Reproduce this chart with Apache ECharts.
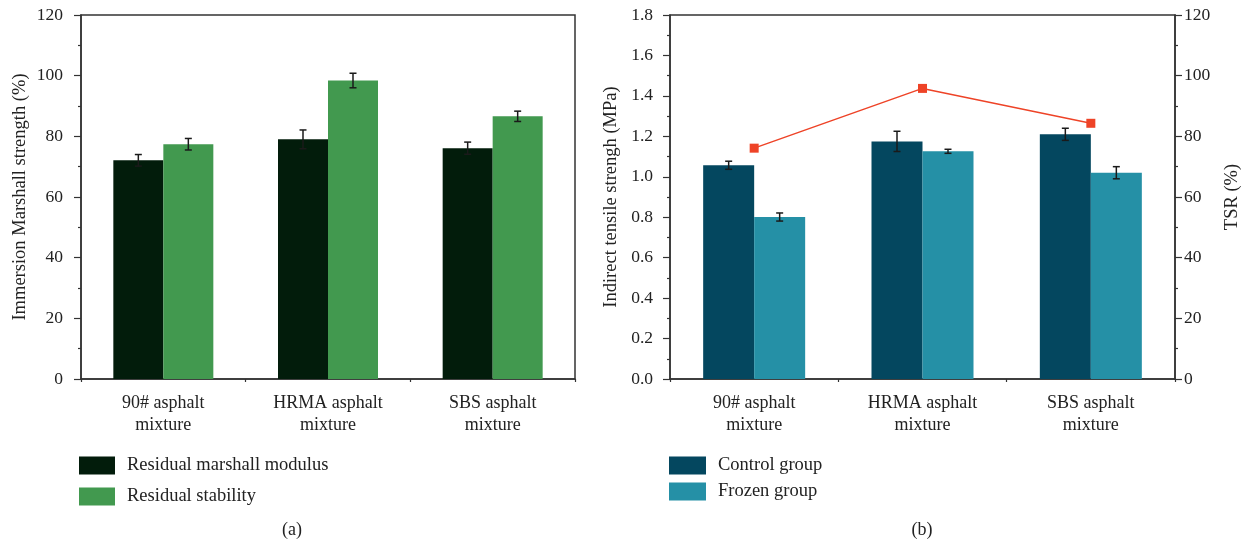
<!DOCTYPE html>
<html>
<head>
<meta charset="utf-8">
<script src="https://cdn.jsdelivr.net/npm/echarts@6/dist/echarts.min.js"></script>
<style>html,body{margin:0;padding:0;background:#fff}#c{width:1246px;height:544px}</style>
</head>
<body>
<div id="c"></div>
<script>
// ---- data ----
const categories = ['90# asphalt\nmixture', 'HRMA asphalt\nmixture', 'SBS asphalt\nmixture'];
const marshallModulus = [72.1, 79.0, 76.1];
const marshallModulusErr = [1.9, 3.1, 2.0];
const residualStability = [77.4, 98.4, 86.6];
const residualStabilityErr = [1.9, 2.4, 1.7];
const controlGroup = [1.057, 1.175, 1.21];
const controlGroupErr = [0.02, 0.05, 0.03];
const frozenGroup = [0.801, 1.126, 1.02];
const frozenGroupErr = [0.02, 0.01, 0.03];
const tsr = [76.1, 95.8, 84.3];

const FONT = 'Liberation Serif';
const TXT = '#222';
const AX = '#333';

function errData(vals, errs) { return vals.map((v, i) => [i, v, v - errs[i], v + errs[i]]); }
function errRender(sign, barW) {
  return function (params, api) {
    const x = api.value(0);
    const pLo = api.coord([x, api.value(2)]);
    const pHi = api.coord([x, api.value(3)]);
    const cx = pLo[0] + sign * barW / 2;
    const cap = 3.5;
    const st = { stroke: '#1a1a1a', lineWidth: 1.5 };
    return { type: 'group', children: [
      { type: 'line', shape: { x1: cx, y1: pLo[1], x2: cx, y2: pHi[1] }, style: st },
      { type: 'line', shape: { x1: cx - cap, y1: pLo[1], x2: cx + cap, y2: pLo[1] }, style: st },
      { type: 'line', shape: { x1: cx - cap, y1: pHi[1], x2: cx + cap, y2: pHi[1] }, style: st }
    ]};
  };
}

function catAxis(grid) {
  return [{
    type: 'category', gridIndex: grid, data: categories, position: 'bottom',
    axisLine: { lineStyle: { color: AX, width: 1.5 } },
    axisTick: { alignWithLabel: true, length: 7, lineStyle: { color: AX, width: 1.2 } },
    axisLabel: { fontFamily: FONT, fontSize: 18, color: TXT, lineHeight: 22, margin: 13 }
  }, {
    type: 'category', gridIndex: grid, data: categories, position: 'bottom',
    axisLine: { show: false },
    axisTick: { show: true, length: 3, lineStyle: { color: AX, width: 1.2 } },
    axisLabel: { show: false }
  }];
}
function valAxis(grid, min, max, interval, pos, name, gap, dec, margin) {
  return {
    type: 'value', gridIndex: grid, min: min, max: max, interval: interval, position: pos,
    name: name, nameLocation: 'middle', nameGap: gap, nameRotate: 90,
    nameTextStyle: { fontFamily: FONT, fontSize: 18.5, color: TXT },
    axisLine: { show: true, lineStyle: { color: AX, width: 1.5 } },
    axisTick: { show: true, length: 7, lineStyle: { color: AX, width: 1.2 } },
    minorTick: { show: true, splitNumber: 2, length: 3, lineStyle: { color: AX, width: 1.2 } },
    splitLine: { show: false },
    axisLabel: { fontFamily: FONT, fontSize: 17.5, color: TXT, margin: margin,
      formatter: v => dec ? v.toFixed(1) : String(v) }
  };
}

const chart = echarts.init(document.getElementById('c'));
chart.setOption({
  animation: false,
  backgroundColor: '#fff',
  grid: [
    { left: 81, top: 15, width: 494, height: 364, show: true, borderColor: AX, borderWidth: 1.5, backgroundColor: 'transparent' },
    { left: 670, top: 15, width: 505, height: 364, show: true, borderColor: AX, borderWidth: 1.5, backgroundColor: 'transparent' }
  ],
  xAxis: [...catAxis(0), ...catAxis(1)],
  yAxis: [
    valAxis(0, 0, 120, 20, 'left', 'Immersion Marshall strength (%)', 51, false, 18),
    valAxis(1, 0, 1.8, 0.2, 'left', 'Indirect tensile strengh (MPa)', 49, true, 17),
    valAxis(1, 0, 120, 20, 'right', 'TSR (%)', 48, false, 9)
  ],
  legend: [
    { data: ['Residual marshall modulus', 'Residual stability'], orient: 'vertical', left: 74, top: 451,
      itemWidth: 36, itemHeight: 18, itemGap: 12, icon: 'rect',
      textStyle: { fontFamily: FONT, fontSize: 18.5, color: TXT, lineHeight: 18, padding: [0, 0, 0, 7] } },
    { data: ['Control group', 'Frozen group'], orient: 'vertical', left: 664, top: 451,
      itemWidth: 37, itemHeight: 18, itemGap: 7, icon: 'rect',
      textStyle: { fontFamily: FONT, fontSize: 18.5, color: TXT, lineHeight: 18, padding: [0, 0, 0, 7] } }
  ],
  graphic: [
    { type: 'text', x: 292, y: 530, style: { text: '(a)', font: '18px "Liberation Serif"', fill: TXT, align: 'center', verticalAlign: 'middle' } },
    { type: 'text', x: 922, y: 530, style: { text: '(b)', font: '18px "Liberation Serif"', fill: TXT, align: 'center', verticalAlign: 'middle' } }
  ],
  series: [
    { name: 'Residual marshall modulus', type: 'bar', xAxisIndex: 0, yAxisIndex: 0, barWidth: 50, barGap: '0%',
      itemStyle: { color: '#021c0b' }, data: marshallModulus },
    { name: 'Residual stability', type: 'bar', xAxisIndex: 0, yAxisIndex: 0, barWidth: 50, barGap: '0%',
      itemStyle: { color: '#42994f' }, data: residualStability },
    { type: 'custom', xAxisIndex: 0, yAxisIndex: 0, z: 5, renderItem: errRender(-1, 50),
      encode: { x: 0, y: [1, 2, 3] }, data: errData(marshallModulus, marshallModulusErr) },
    { type: 'custom', xAxisIndex: 0, yAxisIndex: 0, z: 5, renderItem: errRender(1, 50),
      encode: { x: 0, y: [1, 2, 3] }, data: errData(residualStability, residualStabilityErr) },
    { name: 'Control group', type: 'bar', xAxisIndex: 2, yAxisIndex: 1, barWidth: 51, barGap: '0%',
      itemStyle: { color: '#04475f' }, data: controlGroup },
    { name: 'Frozen group', type: 'bar', xAxisIndex: 2, yAxisIndex: 1, barWidth: 51, barGap: '0%',
      itemStyle: { color: '#2590a6' }, data: frozenGroup },
    { type: 'custom', xAxisIndex: 2, yAxisIndex: 1, z: 5, renderItem: errRender(-1, 51),
      encode: { x: 0, y: [1, 2, 3] }, data: errData(controlGroup, controlGroupErr) },
    { type: 'custom', xAxisIndex: 2, yAxisIndex: 1, z: 5, renderItem: errRender(1, 51),
      encode: { x: 0, y: [1, 2, 3] }, data: errData(frozenGroup, frozenGroupErr) },
    { name: 'TSR', type: 'line', xAxisIndex: 2, yAxisIndex: 2, z: 6, data: tsr,
      symbol: 'rect', symbolSize: 9, lineStyle: { color: '#ee4327', width: 1.5 },
      itemStyle: { color: '#ee4327' } }
  ]
});
</script>
</body>
</html>
